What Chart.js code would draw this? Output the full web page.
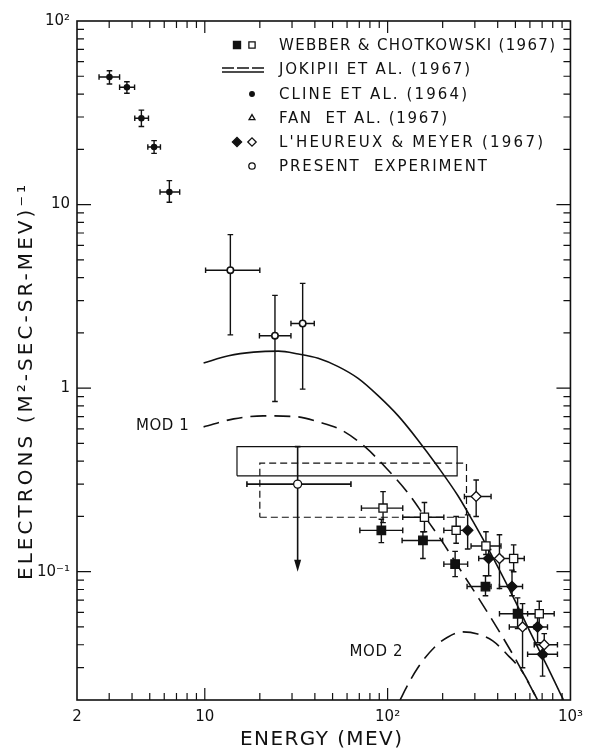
<!DOCTYPE html>
<html>
<head>
<meta charset="utf-8">
<script src="https://cdn.jsdelivr.net/npm/chart.js@4.4.1/dist/chart.umd.min.js"></script>
<style>
  html, body { margin: 0; padding: 0; background: #fff; }
  #chart { display: block; }
</style>
</head>
<body>
<canvas id="chart" width="591" height="751"></canvas>
<script>
// each row: [energy MeV, flux, energy low, energy high, flux low, flux high]
const clineRows = [
  [3.01, 49.5, 2.64, 3.42, 45.4, 53.6],
  [3.75, 43.6, 3.42, 4.13, 40.4, 46.7],
  [4.5, 29.5, 4.14, 4.92, 26.6, 32.7],
  [5.28, 20.6, 4.88, 5.72, 19.0, 22.3],
  [6.4, 11.7, 5.69, 7.29, 10.3, 13.5]
]
const fanRows = [
  [13.8, 4.39, 10.1, 20.0, 1.95, 6.86],
  [24.2, 1.93, 19.9, 29.6, 0.845, 3.2],
  [34.3, 2.25, 29.6, 39.7, 0.987, 3.72]
]
const webberFilledRows = [
  [92.4, 0.168, 70.5, 121, 0.144, 0.193],
  [156, 0.148, 120, 200, 0.118, 0.165],
  [234, 0.110, 203, 274, 0.094, 0.129],
  [343, 0.083, 272, 368, 0.074, 0.095],
  [514, 0.059, 409, 675, 0.049, 0.072]
]
const webberOpenRows = [
  [94.4, 0.222, 71.9, 121, 0.185, 0.273],
  [159, 0.198, 121, 203, 0.165, 0.238],
  [237, 0.168, 203, 274, 0.143, 0.200],
  [345, 0.138, 286, 417, 0.124, 0.165],
  [489, 0.118, 426, 559, 0.100, 0.140],
  [675, 0.059, 583, 815, 0.049, 0.069]
]
const heureuxFilledRows = [
  [274, 0.168, 274, 274, 0.133, 0.204],
  [357, 0.118, 315, 417, 0.095, 0.132],
  [479, 0.083, 409, 547, 0.074, 0.102],
  [661, 0.050, 571, 749, 0.041, 0.057],
  [704, 0.0355, 583, 849, 0.027, 0.041]
]
const heureuxOpenRows = [
  [305, 0.257, 263, 368, 0.200, 0.316],
  [409, 0.118, 409, 409, 0.081, 0.159],
  [547, 0.050, 463, 634, 0.030, 0.067],
  [719, 0.040, 634, 849, 0.0345, 0.046]
]
// present experiment: upper limit, arrow down to flux low
const presentRows = [
  [32.2, 0.30, 17, 63, 0.1, 0.48]
]

// Jokipii et al. modulation curves
const jokipiiE = [9.85, 13.5, 18.5, 25.3, 32.5, 41.7, 53.7, 69, 88.7, 114, 146, 188, 242, 292, 353, 495, 605, 749, 882, 916]
const jokipiiFlux = [1.37, 1.50, 1.57, 1.59, 1.535, 1.455, 1.31, 1.13, 0.910, 0.708, 0.524, 0.374, 0.260, 0.189, 0.1348, 0.0702, 0.0464, 0.0303, 0.0216, 0.02]
const mod1E = [9.85, 14.4, 20.9, 32.5, 41.7, 55.7, 75.3, 100.5, 129, 160, 196, 242, 311, 400, 514, 661]
const mod1Flux = [0.615, 0.680, 0.706, 0.697, 0.655, 0.592, 0.478, 0.358, 0.269, 0.199, 0.149, 0.1075, 0.0729, 0.0488, 0.0319, 0.02]
const mod2E = [117, 129, 146, 181, 214, 258, 311, 376, 453, 547, 661]
const mod2Flux = [0.02, 0.0242, 0.0299, 0.0389, 0.0441, 0.047, 0.0458, 0.042, 0.0352, 0.0284, 0.02]

// boxes: [energy low, energy high, flux low, flux high]
const solidBox = [15, 240, 0.333, 0.48]
const dashedBox = [20, 270, 0.198, 0.39]

const xMajorTicks = [2, 10, 100, 1000]
const xTickLabels = ['2', '10', '10²', '10³']
const yMajorTicks = [0.1, 1, 10, 100]
const yTickLabels = ['10⁻¹', '1', '10', '10²']

const curveLabels = [
  { text: 'MOD 1', energy: 5.9, flux: 0.62 },
  { text: 'MOD 2', energy: 87, flux: 0.0366 }
]
const legendEntries = [
  'WEBBER & CHOTKOWSKI (1967)',
  'JOKIPII ET AL. (1967)',
  'CLINE ET AL. (1964)',
  'FAN  ET AL. (1967)',
  "L'HEUREUX & MEYER (1967)",
  'PRESENT  EXPERIMENT'
]

const ink = '#111'
const family = '"DejaVu Sans", "Liberation Sans", sans-serif'

function minorTicks(min, max) {
  const out = []
  for (let d = -3; d <= 3; d++) {
    for (let k = 1; k <= 9; k++) {
      const v = k * Math.pow(10, d)
      if (v > min * 1.0001 && v < max * 0.9999) out.push(v)
    }
  }
  return out
}

const toPoints = rows => rows.map(r => ({ x: r[0], y: r[1] }))
const toCurve = (es, fs) => es.map((e, i) => ({ x: e, y: fs[i] }))
const toBox = b => [
  { x: b[0], y: b[2] }, { x: b[1], y: b[2] }, { x: b[1], y: b[3] },
  { x: b[0], y: b[3] }, { x: b[0], y: b[2] }
]

function spacedText(ctx, text, x, y, width) {
  ctx.letterSpacing = '0px'
  const w = ctx.measureText(text).width
  const sp = Math.max(0, (width - w) / (text.length - 1))
  ctx.letterSpacing = sp + 'px'
  ctx.fillText(text, x, y)
  ctx.letterSpacing = '0px'
}

const decor = {
  id: 'decor',
  beforeDatasetsDraw(chart) {
    const { ctx } = chart
    const x = chart.scales.x
    const y = chart.scales.y
    const cap = 2.8
    ctx.save()
    ctx.strokeStyle = ink
    ctx.fillStyle = ink
    ctx.lineWidth = 1.4
    const groups = [clineRows, fanRows, webberFilledRows, webberOpenRows, heureuxFilledRows, heureuxOpenRows]
    for (const rows of groups) {
      for (const [e, f, eLo, eHi, fLo, fHi] of rows) {
        const px = x.getPixelForValue(e)
        const py = y.getPixelForValue(f)
        const x0 = x.getPixelForValue(eLo)
        const x1 = x.getPixelForValue(eHi)
        const y0 = y.getPixelForValue(fLo)
        const y1 = y.getPixelForValue(fHi)
        ctx.beginPath()
        if (x1 - x0 > 1) {
          ctx.moveTo(x0, py); ctx.lineTo(x1, py)
          ctx.moveTo(x0, py - cap); ctx.lineTo(x0, py + cap)
          ctx.moveTo(x1, py - cap); ctx.lineTo(x1, py + cap)
        }
        ctx.moveTo(px, y0); ctx.lineTo(px, y1)
        ctx.moveTo(px - cap, y0); ctx.lineTo(px + cap, y0)
        ctx.moveTo(px - cap, y1); ctx.lineTo(px + cap, y1)
        ctx.stroke()
      }
    }
    // upper limit with arrow
    for (const [e, f, eLo, eHi, fLo, fHi] of presentRows) {
      const px = x.getPixelForValue(e)
      const py = y.getPixelForValue(f)
      const x0 = x.getPixelForValue(eLo)
      const x1 = x.getPixelForValue(eHi)
      const yTip = y.getPixelForValue(fLo)
      const yTop = y.getPixelForValue(fHi)
      ctx.lineWidth = 1.6
      ctx.beginPath()
      ctx.moveTo(x0, py); ctx.lineTo(x1, py)
      ctx.moveTo(x0, py - cap); ctx.lineTo(x0, py + cap)
      ctx.moveTo(x1, py - cap); ctx.lineTo(x1, py + cap)
      ctx.moveTo(px, yTop); ctx.lineTo(px, yTip - 10)
      ctx.moveTo(px - cap, yTop); ctx.lineTo(px + cap, yTop)
      ctx.stroke()
      ctx.beginPath()
      ctx.moveTo(px, yTip)
      ctx.lineTo(px - 3.5, yTip - 12)
      ctx.lineTo(px + 3.5, yTip - 12)
      ctx.closePath()
      ctx.fill()
    }
    ctx.restore()
  },
  afterDraw(chart) {
    const { ctx, chartArea: a } = chart
    const x = chart.scales.x
    const y = chart.scales.y
    ctx.save()
    ctx.strokeStyle = ink
    ctx.fillStyle = ink

    // frame
    ctx.lineWidth = 1.6
    ctx.strokeRect(a.left, a.top, a.right - a.left, a.bottom - a.top)

    // inward tick marks on all four sides
    ctx.lineWidth = 1.2
    ctx.beginPath()
    const xAll = minorTicks(2, 1000)
    for (const v of xAll) {
      const len = xMajorTicks.includes(v) ? 12 : 7
      const p = x.getPixelForValue(v)
      ctx.moveTo(p, a.bottom); ctx.lineTo(p, a.bottom - len)
      ctx.moveTo(p, a.top); ctx.lineTo(p, a.top + len)
    }
    const yAll = minorTicks(0.02, 100)
    for (const v of yAll) {
      const len = yMajorTicks.includes(v) ? 14 : 7
      const p = y.getPixelForValue(v)
      ctx.moveTo(a.left, p); ctx.lineTo(a.left + len, p)
      ctx.moveTo(a.right, p); ctx.lineTo(a.right - len, p)
    }
    ctx.stroke()

    // curve labels
    ctx.font = '15px ' + family
    ctx.textBaseline = 'middle'
    ctx.textAlign = 'left'
    for (const l of curveLabels) {
      const cx = x.getPixelForValue(l.energy)
      const cy = y.getPixelForValue(l.flux)
      spacedText(ctx, l.text, cx - 27, cy, 53)
    }

    // legend
    const rowY = [45, 69, 94, 118, 142, 166]
    const rowW = [276, 191, 188, 168, 264, 208]
    const textX = 279
    legendEntries.forEach((t, i) => spacedText(ctx, t, textX, rowY[i] + 1, rowW[i]))

    const mark = (style, r, filled, cx, cy) => {
      ctx.fillStyle = filled ? ink : '#fff'
      ctx.lineWidth = 1.3
      Chart.helpers.drawPoint(ctx, { pointStyle: style, radius: r, rotation: 0, borderWidth: 1.3 }, cx, cy)
    }
    mark('rect', 5, true, 237, rowY[0])
    mark('rect', 4.4, false, 252, rowY[0])
    ctx.lineWidth = 1.5
    ctx.beginPath()
    ctx.moveTo(222, rowY[1] + 3); ctx.lineTo(264, rowY[1] + 3)
    ctx.stroke()
    ctx.setLineDash([12, 3])
    ctx.beginPath()
    ctx.moveTo(222, rowY[1] - 1); ctx.lineTo(264, rowY[1] - 1)
    ctx.stroke()
    ctx.setLineDash([])
    mark('circle', 2.3, true, 252, rowY[2])
    mark('triangle', 3.4, false, 252, rowY[3])
    mark('rectRot', 4.6, true, 237, rowY[4])
    mark('rectRot', 4.2, false, 252, rowY[4])
    mark('circle', 3.2, false, 252, rowY[5])

    // axis titles
    ctx.fillStyle = ink
    ctx.font = '20px ' + family
    ctx.textAlign = 'left'
    ctx.textBaseline = 'middle'
    spacedText(ctx, 'ENERGY (MEV)', 240, 740, 162)
    ctx.translate(27, 580)
    ctx.rotate(-Math.PI / 2)
    spacedText(ctx, 'ELECTRONS (M²-SEC-SR-MEV)⁻¹', 0, 0, 395)
    ctx.restore()
  }
}

const markerBase = { showLine: false, borderColor: ink, borderWidth: 1.3, pointHoverRadius: 0 }
const curveBase = { showLine: true, pointRadius: 0, borderColor: ink, borderWidth: 1.6, tension: 0.4, fill: false }

new Chart(document.getElementById('chart'), {
  type: 'scatter',
  data: {
    datasets: [
      { ...markerBase, label: 'Present experiment', data: toPoints(presentRows), pointStyle: 'circle', pointRadius: 4, pointBackgroundColor: '#fff' },
      { ...markerBase, label: 'Webber & Chotkowski (1967)', data: toPoints(webberFilledRows), pointStyle: 'rect', pointRadius: 6, pointBackgroundColor: ink },
      { ...markerBase, label: 'Webber & Chotkowski (1967) open', data: toPoints(webberOpenRows), pointStyle: 'rect', pointRadius: 5.8, pointBackgroundColor: '#fff' },
      { ...markerBase, label: "L'Heureux & Meyer (1967)", data: toPoints(heureuxFilledRows), pointStyle: 'rectRot', pointRadius: 5.2, pointBackgroundColor: ink },
      { ...markerBase, label: "L'Heureux & Meyer (1967) open", data: toPoints(heureuxOpenRows), pointStyle: 'rectRot', pointRadius: 5, pointBackgroundColor: '#fff' },
      { ...markerBase, label: 'Cline et al. (1964)', data: toPoints(clineRows), pointStyle: 'circle', pointRadius: 2.6, pointBackgroundColor: ink },
      { ...markerBase, label: 'Fan et al. (1967)', data: toPoints(fanRows), pointStyle: 'circle', pointRadius: 3.2, pointBackgroundColor: '#fff', borderWidth: 1.6 },
      { ...curveBase, label: 'Jokipii et al. (1967)', data: toCurve(jokipiiE, jokipiiFlux), cubicInterpolationMode: 'monotone' },
      { ...curveBase, label: 'MOD 1', data: toCurve(mod1E, mod1Flux), borderDash: [16, 8], cubicInterpolationMode: 'monotone' },
      { ...curveBase, label: 'MOD 2', data: toCurve(mod2E, mod2Flux), borderDash: [16, 8], cubicInterpolationMode: 'monotone' },
      { ...curveBase, label: 'box', data: toBox(solidBox), tension: 0, borderWidth: 1.2 },
      { ...curveBase, label: 'dashed box', data: toBox(dashedBox), tension: 0, borderWidth: 1.2, borderDash: [7, 4] }
    ]
  },
  options: {
    responsive: false,
    animation: false,
    devicePixelRatio: 1,
    layout: { padding: { top: 21, right: 18, left: 0, bottom: 0 } },
    plugins: { legend: { display: false }, tooltip: { enabled: false } },
    scales: {
      x: {
        type: 'logarithmic',
        min: 2,
        max: 1000,
        afterBuildTicks: s => { s.ticks = xMajorTicks.map(v => ({ value: v })) },
        afterFit: s => { s.height = 51 },
        grid: { display: false, drawTicks: false },
        border: { display: false },
        ticks: {
          autoSkip: false, maxRotation: 0, padding: 8, color: ink,
          font: { family, size: 15 },
          callback: v => xTickLabels[xMajorTicks.indexOf(v)] ?? ''
        }
      },
      y: {
        type: 'logarithmic',
        min: 0.02,
        max: 100,
        afterBuildTicks: s => { s.ticks = yMajorTicks.map(v => ({ value: v })) },
        afterFit: s => { s.width = 77 },
        grid: { display: false, drawTicks: false },
        border: { display: false },
        ticks: {
          autoSkip: false, padding: 7, color: ink,
          font: { family, size: 15 },
          callback: v => yTickLabels[yMajorTicks.indexOf(v)] ?? ''
        }
      }
    }
  },
  plugins: [decor]
})
</script>
</body>
</html>
